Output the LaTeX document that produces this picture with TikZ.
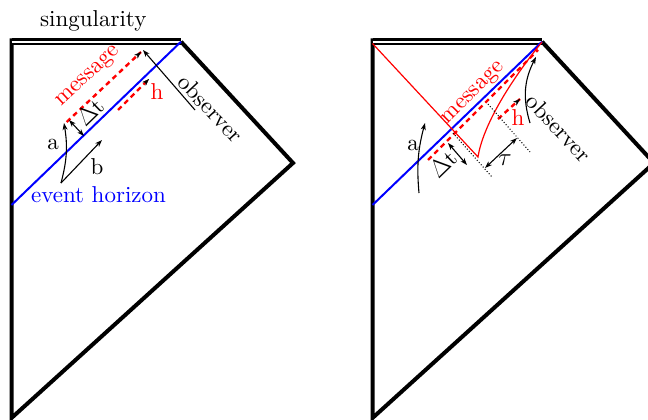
\documentclass[tikz,border=0pt]{standalone}
\usepackage{fontspec}
\setmainfont{lmroman10-regular.otf}
\usetikzlibrary{arrows.meta,calc}
\begin{document}
\begin{tikzpicture}[x=1pt,y=-1pt,
  lbl/.style={font=\fontsize{23}{27}\selectfont, inner sep=0pt},
  border/.style={line width=4pt, line join=miter},
  sing/.style={double, line width=2.2pt, double distance=2.3pt},
  horizon/.style={blue, line width=2pt},
  msg/.style={red, line width=2.4pt, dash pattern=on 5pt off 4pt},
  redtip/.style={-{Stealth[black,length=7pt,width=5pt,inset=2pt]}},
  arr/.style={line width=1.1pt, -{Stealth[length=7pt,width=5pt,inset=2pt]}},
  darr/.style={line width=1.1pt, {Stealth[length=7pt,width=5pt,inset=2pt]}-{Stealth[length=7pt,width=5pt,inset=2pt]}},
  dots/.style={dotted, line width=1pt},
  frame/.pic={
    \coordinate (-top) at (11.5,38.5);
    \coordinate (-tl) at (11.5,41.7);
    \coordinate (-tr) at (181,41.7);
    \coordinate (-r) at (293,163);
    \coordinate (-bl) at (11.5,418);
    \coordinate (-h0) at (11.5,205);
    \draw[border] (-top) -- (-bl) -- (-r) -- (-tr);
    \draw[sing] (-tl) -- (-tr);
    \draw[horizon] (-h0) -- (-tr);
  }
]
\useasboundingbox (0,0) rectangle (648,420);
\clip (0,0) rectangle (648,420);

% ---------------- left diagram ----------------
\pic (L) at (0,0) {frame};
\node[lbl, anchor=base] (sing) at (93.3,27) {singularity};
\node[lbl, blue, anchor=base] (eh) at (98.5,202.5) {event horizon};

\coordinate (Lm0) at (66.7,122);
\coordinate (Lm1) at (141,52);
\draw[msg] (Lm0) -- (Lm1);
\draw[redtip] ($(Lm0)!0.97!(Lm1)$) -- (Lm1);
\coordinate (Lh0) at (118,110);
\coordinate (Lh1) at (149,79);
\draw[msg] (Lh0) -- (Lh1);
\draw[redtip] ($(Lh0)!0.9!(Lh1)$) -- (Lh1);
\coordinate (Lo0) at (195,110);
\coordinate (Lo1) at (143,50);
\draw[arr] (Lo0) -- (Lo1);
\coordinate (Ld0) at (69,120);
\coordinate (Ld1) at (84,136);
\draw[darr] (Ld0) -- (Ld1);
\coordinate (Lab) at (61,183);
\coordinate (La1) at (64,123);
\coordinate (Lb1) at (102,140);
\draw[arr] (Lab) to[bend right=12] (La1);
\draw[arr] (Lab) -- (Lb1);

\node[lbl, red, rotate=43] (Lmsg) at (89,77) {message};
\node[lbl, rotate=44] (Ldt) at (90,112) {$\Delta$t};
\node[lbl, red] (Lhl) at (157,92) {h};
\node[lbl] (Lal) at (53,144) {a};
\node[lbl] (Lbl) at (97,167) {b};
\node[lbl, rotate=-47] (Lobs) at (210.5,108.5) {observer};

% ---------------- right diagram ----------------
\begin{scope}[shift={(361,0)}]
\pic (R) at (0,0) {frame};
\coordinate (Rc0) at (11.5,43.5);
\coordinate (Rv) at (117,157);
\coordinate (Rc1) at (181,42);
\draw[red, line width=1.2pt] (Rc0) -- (Rv) .. controls (122,125) and (150,80) .. (Rc1);

\coordinate (Rm0) at (67,160);
\coordinate (Rm1) at (177,50);
\draw[msg] (Rm0) -- (Rm1);
\coordinate (Rh0) at (137,119);
\coordinate (Rh1) at (159,99);
\draw[msg] (Rh0) -- (Rh1);
\draw[redtip] ($(Rh0)!0.9!(Rh1)$) -- (Rh1);

\coordinate (Rp0) at (92,133);
\coordinate (Rp1) at (131,177);
\coordinate (Rq0) at (127,104);
\coordinate (Rq1) at (169,152);
\draw[dots] (Rp0) -- (Rp1);
\draw[dots] (Rq0) -- (Rq1);

\coordinate (Rd0) at (87,143);
\coordinate (Rd1) at (106,165);
\draw[darr] (Rd0) -- (Rd1);
\coordinate (Rt0) at (124,168);
\coordinate (Rt1) at (156,138);
\draw[darr] (Rt0) -- (Rt1);

\coordinate (Ra0) at (58,193);
\coordinate (Ra1) at (64,123);
\draw[arr] (Ra0) to[bend left=10] (Ra1);
\coordinate (Ro0) at (169,123);
\coordinate (Ro1) at (175,57);
\draw[arr] (Ro0) to[bend left=22] (Ro1);

\node[lbl, red, rotate=45] (Rmsg) at (113,94) {message};
\node[lbl, red] (Rhl) at (157,118) {h};
\node[lbl, rotate=44] (Rdt) at (82,164) {$\Delta$t};
\node[lbl] (Rtau) at (144,160) {$\tau$};
\node[lbl] (Ral) at (52,145) {a};
\node[lbl, rotate=-47] (Robs) at (198,128) {observer};
\end{scope}
\end{tikzpicture}
\end{document}
